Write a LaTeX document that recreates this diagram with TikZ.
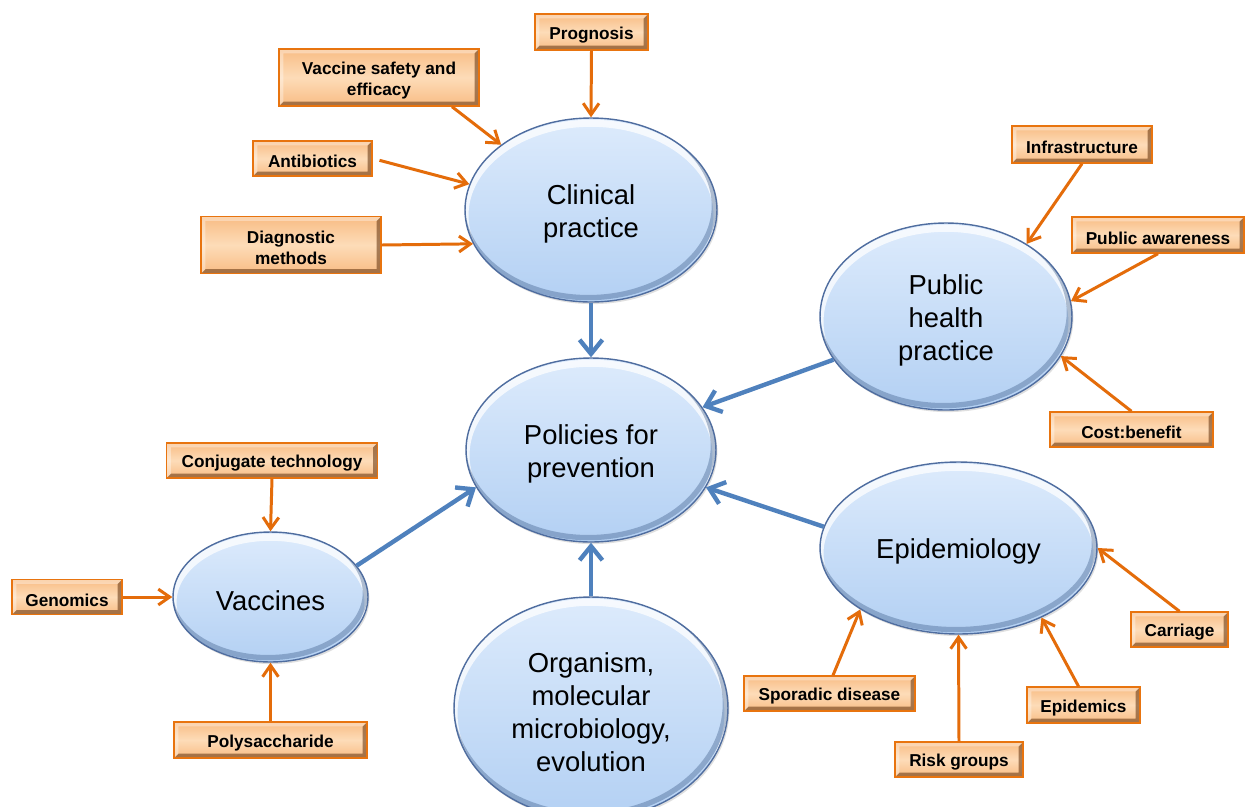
\documentclass[tikz,border=0pt]{standalone}
\usepackage{fontspec}
\setmainfont{Liberation Sans}
\usetikzlibrary{shapes.geometric,arrows.meta,shadows,calc}
\definecolor{orarrow}{HTML}{E46C0A}
\definecolor{bluearrow}{HTML}{4F81BD}
\definecolor{boxborder}{HTML}{E8740F}
\definecolor{boxlight}{HTML}{FDDCB8}
\definecolor{boxmid}{HTML}{F8BC84}
\definecolor{boxdark}{HTML}{6E3E18}
\definecolor{elltop}{HTML}{DDEBFC}
\definecolor{ellbot}{HTML}{B3D0F3}
\definecolor{ellborder}{HTML}{4F6D9F}
\definecolor{ellrim}{HTML}{30507E}
\tikzset{
  concept/.style={ellipse, draw=ellborder, line width=0.8pt, top color=elltop, bottom color=ellbot,
    inner sep=0pt,
    drop shadow={shadow xshift=0.8pt, shadow yshift=-1.2pt, opacity=0.25},
    path picture={
      \draw[white, line width=4pt, opacity=0.75]
        let \p1=($(path picture bounding box.north east)-(path picture bounding box.center)$) in
        ([yshift=-3pt]path picture bounding box.center) ellipse [x radius=\x1, y radius=\y1];
      \draw[ellrim, line width=3pt, opacity=0.35]
        let \p1=($(path picture bounding box.north east)-(path picture bounding box.center)$) in
        ([shift={(-1.5pt,2.5pt)}]path picture bounding box.center) ellipse [x radius=\x1, y radius=\y1];
    }},
  ctext/.style={align=center, inner sep=0pt, yshift=-2.2pt, font=\fontsize{15.6}{18.8}\selectfont},
  factor/.style={rectangle, draw=boxborder, line width=0.8pt, inner sep=0pt,
    top color=boxmid, bottom color=boxmid, middle color=boxlight,
    path picture={
      \fill[boxdark, opacity=0.6] (path picture bounding box.south west) -- (path picture bounding box.south east)
        -- (path picture bounding box.north east) -- ([shift={(-2.5pt,-2.5pt)}]path picture bounding box.north east)
        -- ([shift={(-2.5pt,2.5pt)}]path picture bounding box.south east) -- ([shift={(2.5pt,2.5pt)}]path picture bounding box.south west) -- cycle;
      \fill[white, opacity=0.35] (path picture bounding box.south west) -- (path picture bounding box.north west)
        -- (path picture bounding box.north east) -- ([shift={(-2.5pt,-2.5pt)}]path picture bounding box.north east)
        -- ([shift={(2.5pt,-2.5pt)}]path picture bounding box.north west) -- ([shift={(2.5pt,2.5pt)}]path picture bounding box.south west) -- cycle;
    }},
  ftext/.style={align=center, inner sep=0pt, yshift=-1.7pt, font=\bfseries\fontsize{9.8}{12}\selectfont},
  feed/.style={draw=orarrow, line width=1.7pt, -{Straight Barb[length=6.5pt,width=9pt]}},
  flow/.style={draw=bluearrow, line width=2.5pt, -{Straight Barb[length=8pt,width=13pt]}},
}
\begin{document}
\begin{tikzpicture}[x=0.02cm, y=-0.02cm]
\useasboundingbox (0,0) rectangle (1245,806);
\clip (0,0) rectangle (1245,806);
\fill[white] (0,0) rectangle (1245,806);

% concepts
\node[concept, minimum width=5.04cm, minimum height=3.68cm, label={[ctext]center:{Clinical\\practice}}] (clin) at (591,210) {};
\node[concept, minimum width=5.0cm, minimum height=3.68cm, label={[ctext]center:{Policies for\\prevention}}] (pol) at (591,450) {};
\node[concept, minimum width=5.04cm, minimum height=3.74cm, label={[ctext]center:{Public\\health\\practice}}] (ph) at (946,316.5) {};
\node[concept, minimum width=5.54cm, minimum height=3.44cm, label={[ctext]center:{Epidemiology}}] (epi) at (958.5,548) {};
\node[concept, minimum width=3.9cm, minimum height=2.6cm, label={[ctext]center:{Vaccines}}] (vac) at (270.5,597) {};
\node[concept, minimum width=5.48cm, minimum height=4.44cm, label={[ctext]center:{Organism,\\molecular\\microbiology,\\evolution}}] (org) at (591,708) {};

% factors
\node[factor, minimum width=2.26cm, minimum height=0.72cm, label={[ftext]center:{Prognosis}}] (prog) at (591.5,32) {};
\node[factor, minimum width=4.0cm, minimum height=1.14cm, label={[ftext]center:{Vaccine safety and\\efficacy}}] (vs) at (379,77.5) {};
\node[factor, minimum width=2.38cm, minimum height=0.70cm, label={[ftext]center:{Antibiotics}}] (ab) at (312.5,158.5) {};
\node[factor, minimum width=3.6cm, minimum height=1.14cm, label={[ftext]center:{Diagnostic\\methods}}] (diag) at (291,245) {};
\node[factor, minimum width=2.8cm, minimum height=0.74cm, label={[ftext]center:{Infrastructure}}] (inf) at (1082,144.5) {};
\node[factor, minimum width=3.44cm, minimum height=0.72cm, label={[ftext]center:{Public awareness}}] (pa) at (1158,235) {};
\node[factor, minimum width=3.26cm, minimum height=0.70cm, label={[ftext]center:{Cost:benefit}}] (cb) at (1131.5,429.5) {};
\node[factor, minimum width=1.94cm, minimum height=0.70cm, label={[ftext]center:{Carriage}}] (car) at (1179.5,629.5) {};
\node[factor, minimum width=2.26cm, minimum height=0.72cm, label={[ftext]center:{Epidemics}}] (epid) at (1083.5,705) {};
\node[factor, minimum width=2.56cm, minimum height=0.70cm, label={[ftext]center:{Risk groups}}] (rg) at (959,759.5) {};
\node[factor, minimum width=3.42cm, minimum height=0.70cm, label={[ftext]center:{Sporadic disease}}] (sp) at (829.5,693.5) {};
\node[factor, minimum width=4.22cm, minimum height=0.70cm, label={[ftext]center:{Conjugate technology}}] (ct) at (272,460.5) {};
\node[factor, minimum width=2.2cm, minimum height=0.70cm, label={[ftext]center:{Genomics}}] (gen) at (67,597) {};
\node[factor, minimum width=3.86cm, minimum height=0.72cm, label={[ftext]center:{Polysaccharide}}] (poly) at (270.5,740) {};

% orange feeders
\draw[feed] (prog.south) -- (clin.north);
\draw[feed] ([xshift=1.46cm]vs.south) -- (clin.144);
\draw[feed, shorten <=4pt] (ab.east) -- (clin.168);
\draw[feed] (diag.east) -- (clin.196);
\draw[feed] (inf.south) -- (ph.42);
\draw[feed] (pa.south) -- (ph.7);
\draw[feed] (cb.north) -- (ph.-19.5);
\draw[feed] (car.north) -- (epi.east);
\draw[feed] ([xshift=-0.1cm]epid.north) -- (epi.-40);
\draw[feed] (rg.north) -- (epi.south);
\draw[feed] ([xshift=0.07cm]sp.north) -- (epi.212);
\draw[feed] (ct.south) -- (vac.north);
\draw[feed] (gen.east) -- (vac.west);
\draw[feed] (poly.north) -- (vac.south);

% blue flows
\draw[flow] (clin.south) -- (pol.north);
\draw[flow] (ph.201) -- (pol.21.7);
\draw[flow] (epi.171.7) -- (pol.-18.3);
\draw[flow] (vac.20) -- (pol.198.4);
\draw[flow] (org.north) -- (pol.south);
\end{tikzpicture}
\end{document}
